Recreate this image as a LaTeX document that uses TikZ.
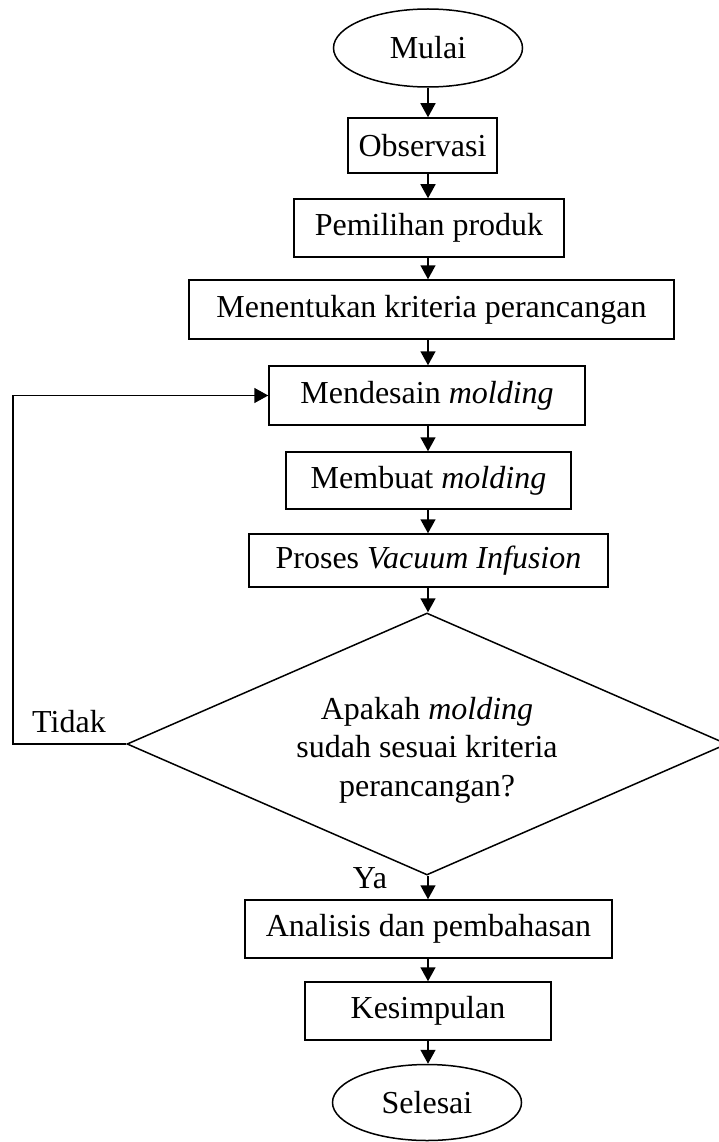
\documentclass[tikz,border=0pt]{standalone}
\usepackage{fontspec}
\setmainfont{Liberation Serif}
\usetikzlibrary{shapes.geometric,arrows.meta}
\begin{document}
\begin{tikzpicture}[x=1pt,y=-1pt,
  every node/.style={font=\fontsize{32}{38.5}\selectfont},
  proc/.style={draw,line width=1.5pt,rectangle,inner sep=0pt,align=center},
  term/.style={draw,line width=1.5pt,ellipse,inner sep=0pt,minimum width=189pt,minimum height=78pt},
  decis/.style={draw,line width=1.5pt,diamond,inner sep=0pt,aspect=2.29,minimum width=600pt,minimum height=262pt},
  flow/.style={line width=1.5pt,-{Triangle[length=14pt,width=15pt]}}]
\useasboundingbox (0,0) rectangle (719,1142);
\node[term] (mulai) at (428,48) {Mulai};
\node[proc,minimum width=149pt,minimum height=55pt] (obs) at (422.5,145.5) {Observasi};
\node[proc,minimum width=270pt,minimum height=58pt] (pil) at (429,228) {Pemilihan produk};
\node[proc,minimum width=485pt,minimum height=59pt] (kri) at (431.5,309.5) {Menentukan kriteria perancangan};
\node[proc,minimum width=316pt,minimum height=59pt] (des) at (427,395.5) {Mendesain \textit{molding}};
\node[proc,minimum width=285pt,minimum height=57pt] (buat) at (428.5,480.5) {Membuat \textit{molding}};
\node[proc,minimum width=359pt,minimum height=53pt] (vi) at (428.5,560.5) {Proses \textit{Vacuum Infusion}};
\node[decis] (dec) at (427,744) {};
\node[align=center] (dectext) at (427,750) {Apakah \textit{molding}\\sudah sesuai kriteria\\perancangan?};
\node[proc,minimum width=367pt,minimum height=58pt] (ana) at (428.5,929) {Analisis dan pembahasan};
\node[proc,minimum width=246pt,minimum height=58pt] (kes) at (428,1011) {Kesimpulan};
\node[term,minimum height=76pt] (sel) at (427,1102.5) {Selesai};
\node[anchor=base] (tidak) at (69,732) {Tidak};
\node[anchor=base] (ya) at (370,888) {Ya};
\coordinate (lp) at (13,744);
\draw[flow] (mulai.south -| mulai) -- (obs.north -| mulai);
\draw[flow] (obs.south -| mulai) -- (pil.north -| mulai);
\draw[flow] (pil.south -| mulai) -- (kri.north -| mulai);
\draw[flow] (kri.south -| mulai) -- (des.north -| mulai);
\draw[flow] (des.south -| mulai) -- (buat.north -| mulai);
\draw[flow] (buat.south -| mulai) -- (vi.north -| mulai);
\draw[flow] (vi.south -| mulai) -- (dec.north -| mulai);
\draw[flow] (dec.south -| mulai) -- (ana.north -| mulai);
\draw[flow] (ana.south -| mulai) -- (kes.north -| mulai);
\draw[flow] (kes.south -| mulai) -- (sel.north -| mulai);
\draw[flow] (dec.west) -- (lp) |- (des.west);
\end{tikzpicture}
\end{document}
